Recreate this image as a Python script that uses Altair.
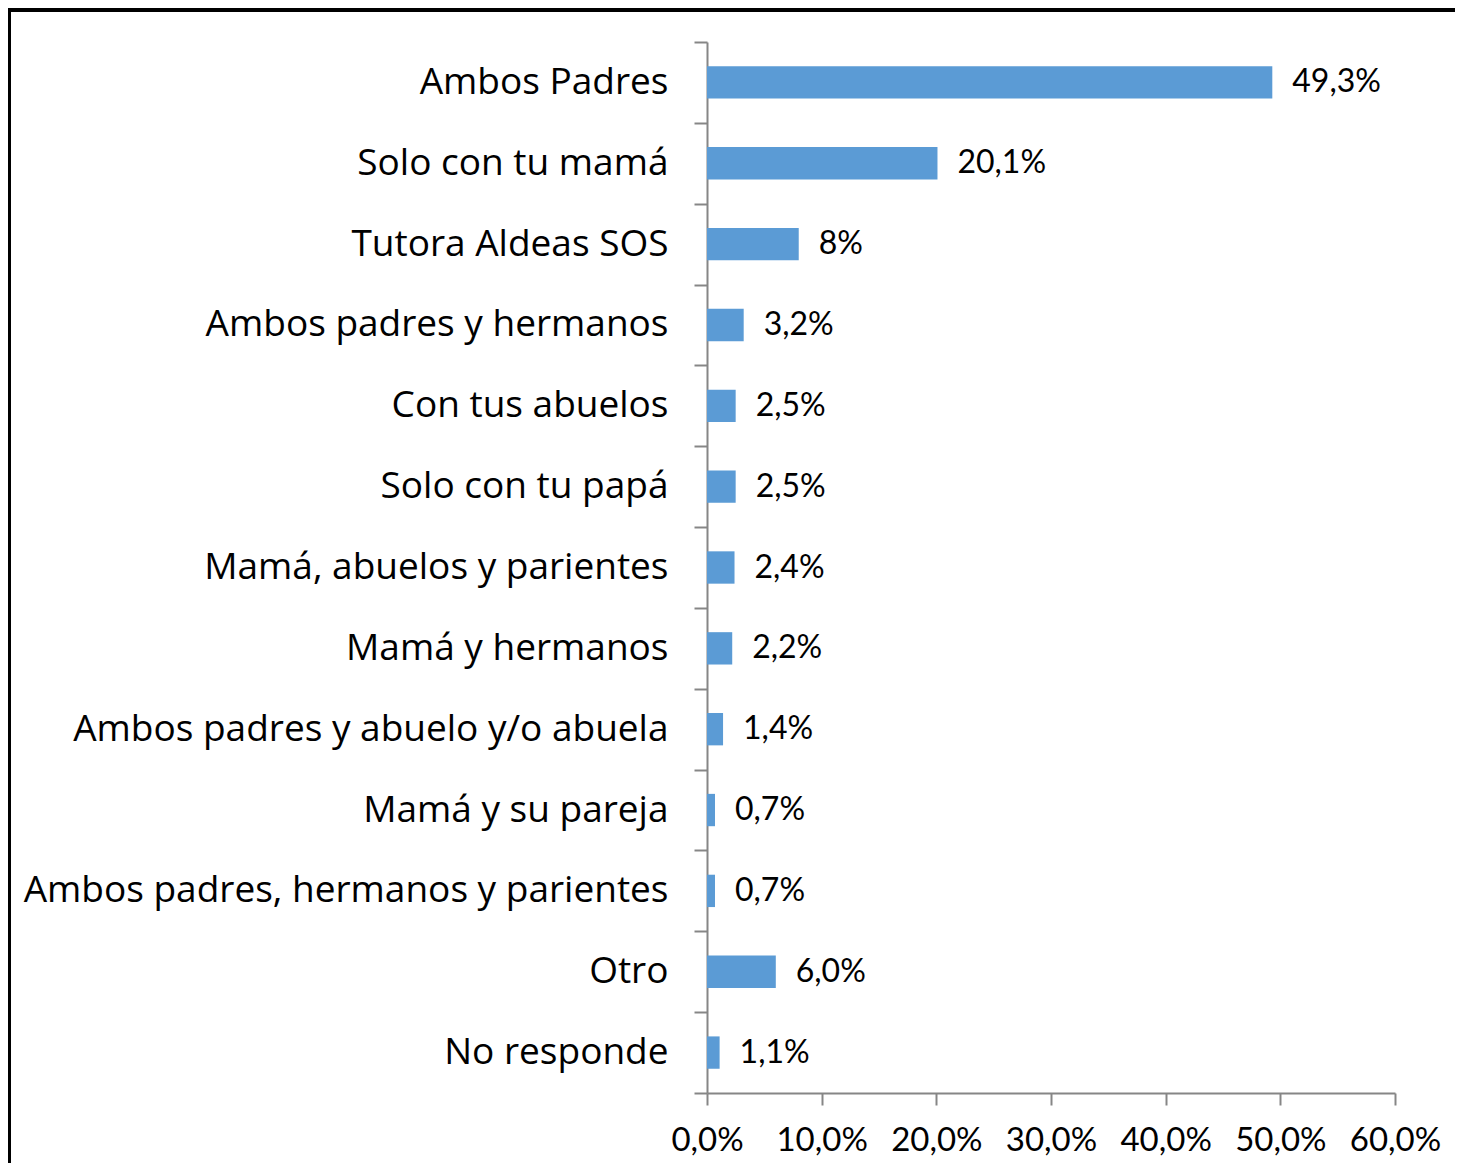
import altair as alt
import pandas as pd

categories = [
    "Ambos Padres",
    "Solo con tu mamá",
    "Tutora Aldeas SOS",
    "Ambos padres y hermanos",
    "Con tus abuelos",
    "Solo con tu papá",
    "Mamá, abuelos y parientes",
    "Mamá y hermanos",
    "Ambos padres y abuelo y/o abuela",
    "Mamá y su pareja",
    "Ambos padres, hermanos y parientes",
    "Otro",
    "No responde",
]
values = [49.3, 20.1, 8.0, 3.2, 2.5, 2.5, 2.4, 2.2, 1.4, 0.7, 0.7, 6.0, 1.1]
labels = ["49,3%", "20,1%", "8%", "3,2%", "2,5%", "2,5%", "2,4%", "2,2%",
          "1,4%", "0,7%", "0,7%", "6,0%", "1,1%"]
x_ticks = [0, 10, 20, 30, 40, 50, 60]

df = pd.DataFrame({"cat": categories, "val": values, "lab": labels})

CAT_FONT = "Open Sans"
NUM_FONT = "Lato"
W, H = 688, 1051
BAR = "#5B9BD5"
AX = "#868686"

y_enc = alt.Y(
    "cat:N",
    sort=categories,
    scale=alt.Scale(paddingInner=0, paddingOuter=0),
    axis=alt.Axis(
        title=None,
        domainColor=AX, domainWidth=2,
        tickColor=AX, tickWidth=2, tickSize=13, tickBand="extent",
        labelFont=CAT_FONT, labelFontSize=37, labelColor="black",
        labelPadding=26, labelLimit=1000,
    ),
)
x_enc = alt.X(
    "val:Q",
    scale=alt.Scale(domain=[0, 60], nice=False),
    axis=alt.Axis(
        title=None, values=x_ticks, grid=False,
        domainColor=AX, domainWidth=2,
        tickColor=AX, tickWidth=2, tickSize=12,
        labelFont=NUM_FONT, labelFontSize=33, labelColor="black",
        labelPadding=19, labelOverlap=False, labelFlush=False,
        labelExpr="replace(format(datum.value, '.1f'), '.', ',') + '%'",
    ),
)

bars = alt.Chart(df).mark_bar(color=BAR, height={"band": 0.4}).encode(x=x_enc, y=y_enc)
text = alt.Chart(df).mark_text(
    align="left", baseline="middle", dx=20, font=NUM_FONT, fontSize=32, color="black"
).encode(x="val:Q", y=alt.Y("cat:N", sort=categories), text="lab:N")

frame = alt.Chart(df).mark_rect(
    fill=None, stroke="black", strokeWidth=3
).encode(
    x=alt.value(-698), x2=alt.value(W + 200),
    y=alt.value(-32), y2=alt.value(H + 300),
)

chart = alt.layer(frame, bars, text).properties(
    width=W, height=H,
    autosize=alt.AutoSizeParams(type="none"),
    padding={"left": 699, "top": 34, "right": 60, "bottom": 70},
).configure_view(stroke=None)

chart.save("out.html", embed_options={"renderer": "svg", "actions": False})
